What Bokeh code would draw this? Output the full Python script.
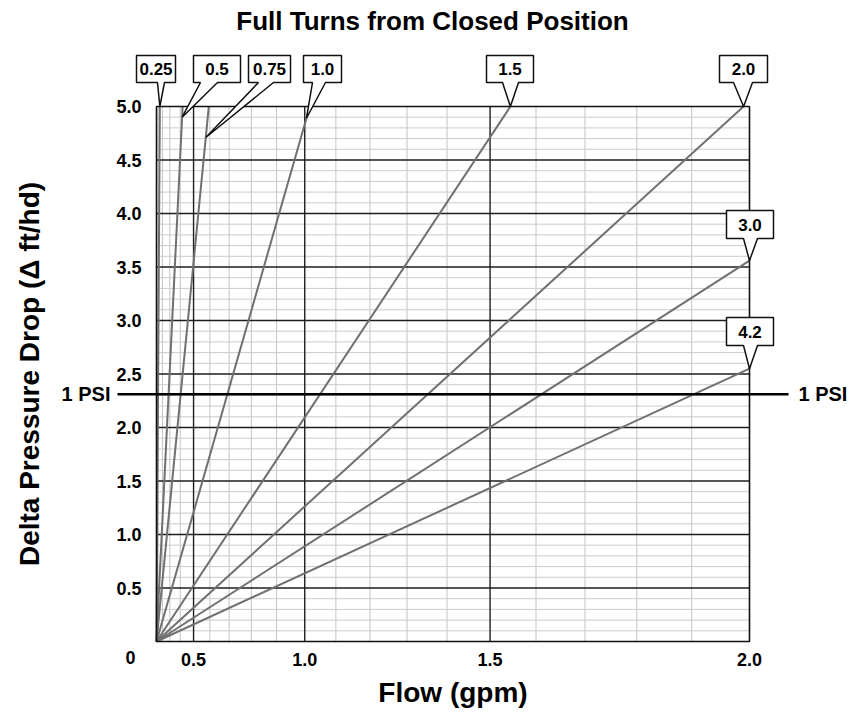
import numpy as np
from bokeh.plotting import figure
from bokeh.models import Range1d, LinearAxis, FixedTicker, PrintfTickFormatter
from bokeh.core.properties import value
from bokeh.embed import file_html
from bokeh.resources import INLINE

# ---------------- data ----------------
turns = ["0.25", "0.5", "0.75", "1.0", "1.5", "2.0", "3.0", "4.2"]
end_flow = [0.15, 0.42, 0.594, 1.017, 1.545, 1.99, 2.0, 2.0]   # gpm where each curve ends
end_dp = [5.0, 5.0, 5.0, 5.0, 5.0, 5.0, 3.56, 2.55]           # ft/hd at that point
x_ticks = [0.5, 1.0, 1.5, 2.0]
y_ticks = [0.5, 1.0, 1.5, 2.0, 2.5, 3.0, 3.5, 4.0, 4.5, 5.0]
psi_dp = 2.31
flow_max, dp_max = 2.0, 5.0

# ---------------- layout ----------------
W, H = 866, 713
X0, XS = 156, 148.25     # px of flow^2 = 0, px per flow^2 unit
Y0, YS = 641, 107        # px of dp = 0, px per dp unit


def fx(px):
    return (px - X0) / XS


def fy(py):
    return (Y0 - py) / YS


def q2(q):
    return q * q   # square-law flow scale (dp ~ Q^2 draws straight lines)


FONT = value("Liberation Sans")

p = figure(width=W, height=H, x_range=Range1d(fx(0), fx(W)), y_range=Range1d(fy(H), fy(0)),
           x_axis_type=None, y_axis_type=None, output_backend="svg", toolbar_location=None,
           min_border=0, outline_line_color=None, background_fill_color="white")

# grid
minor_q = [round(0.1 * i, 1) for i in range(1, 20) if i % 5]
minor_dp = [round(0.1 * i, 1) for i in range(1, 50) if i % 5]
major_q = [q for q in x_ticks if q < flow_max]
major_dp = [d for d in y_ticks if d < dp_max]
gx = q2(flow_max)
p.segment(x0=[q2(q) for q in minor_q], y0=0, x1=[q2(q) for q in minor_q], y1=dp_max,
          line_color="#c4c4c4", line_width=1)
p.segment(x0=0, y0=minor_dp, x1=gx, y1=minor_dp, line_color="#cccccc", line_width=1)
p.segment(x0=[q2(q) for q in major_q], y0=0, x1=[q2(q) for q in major_q], y1=dp_max,
          line_color="#1e1e1e", line_width=1.4)
p.segment(x0=0, y0=major_dp, x1=gx, y1=major_dp, line_color="#1e1e1e", line_width=1.4)

# curves
p.segment(x0=0, y0=0, x1=[q2(q) for q in end_flow], y1=end_dp, line_color="#707070", line_width=2)

# frame
p.quad(left=0, right=gx, bottom=0, top=dp_max, fill_color=None, line_color="#111111", line_width=1.6)

# 1 PSI line
p.segment(x0=fx(117), y0=psi_dp, x1=fx(788), y1=psi_dp, line_color="black", line_width=2.5)
p.text(x=[fx(110)], y=[psi_dp], text=["1 PSI"], text_align="right", text_baseline="middle",
       text_font=FONT, text_font_style="bold", text_font_size="20px", text_color="black")
p.text(x=[fx(798)], y=[psi_dp], text=["1 PSI"], text_align="left", text_baseline="middle",
       text_font=FONT, text_font_style="bold", text_font_size="20px", text_color="black")

# callouts: (left, top, width, height, tail_left, tail_right, tip_dp) in px
callouts = [
    (136, 55, 39, 27, 157, 164, None),
    (193, 55, 47, 27, 200, 217, 4.90),
    (248, 55, 42, 27, 258, 273, 4.71),
    (303, 55, 38, 27, 312, 325, 4.89),
    (486, 55, 47, 27, 502, 518, None),
    (719, 55, 48, 27, 733, 752, None),
    (726, 210, 47, 28, 743, 757, None),
    (726, 317, 47, 28, 743, 757, None),
]
xs, ys, cx, cy = [], [], [], []
for (l, t, w, h, bl, br, tdp), q, d in zip(callouts, end_flow, end_dp):
    dp_tip = d if tdp is None else tdp
    tipx = q2(q) * dp_tip / d
    xs.append([fx(l), fx(l + w), fx(l + w), fx(br), tipx, fx(bl), fx(l)])
    ys.append([fy(t), fy(t), fy(t + h), fy(t + h), dp_tip, fy(t + h), fy(t + h)])
    cx.append(fx(l + w / 2))
    cy.append(fy(t + h / 2))
p.patches(xs=xs, ys=ys, fill_color="white", line_color="#111111", line_width=1.5)
p.text(x=cx, y=cy, text=turns, text_align="center", text_baseline="middle",
       text_font=FONT, text_font_style="bold", text_font_size="17px", text_color="black")

# axes (tick labels only)
yax = LinearAxis(fixed_location=0, ticker=FixedTicker(ticks=y_ticks),
                 formatter=PrintfTickFormatter(format="%.1f"))
xax = LinearAxis(fixed_location=0, ticker=FixedTicker(ticks=[q2(q) for q in x_ticks]),
                 major_label_overrides={q2(q): f"{q:.1f}" for q in x_ticks})
for ax, standoff in ((yax, 15), (xax, 11)):
    ax.axis_line_color = None
    ax.major_tick_line_color = None
    ax.minor_tick_line_color = None
    ax.major_tick_in = 0
    ax.major_tick_out = 0
    ax.major_label_standoff = standoff
    ax.major_label_text_font = "Liberation Sans"
    ax.major_label_text_font_style = "bold"
    ax.major_label_text_font_size = "18px"
    ax.major_label_text_color = "black"
p.add_layout(yax, "left")
p.add_layout(xax, "below")

# origin label
p.text(x=[fx(130)], y=[fy(657)], text=["0"], text_align="center", text_baseline="middle",
       text_font=FONT, text_font_style="bold", text_font_size="18px", text_color="black")

# titles
p.text(x=[fx(432)], y=[fy(20)], text=["Full Turns from Closed Position"], text_align="center",
       text_baseline="middle", text_font=FONT, text_font_style="bold", text_font_size="26px",
       text_color="black")
p.text(x=[fx(29)], y=[fy(373.5)], text=["Delta Pressure Drop (\u0394 ft/hd)"], angle=np.pi / 2,
       text_align="center", text_baseline="middle", text_font=FONT, text_font_style="bold",
       text_font_size="28px", text_color="black")
p.text(x=[fx(452.5)], y=[fy(692)], text=["Flow (gpm)"], text_align="center",
       text_baseline="middle", text_font=FONT, text_font_style="bold", text_font_size="28px",
       text_color="black")

open("out.html", "w").write(file_html(p, INLINE))
